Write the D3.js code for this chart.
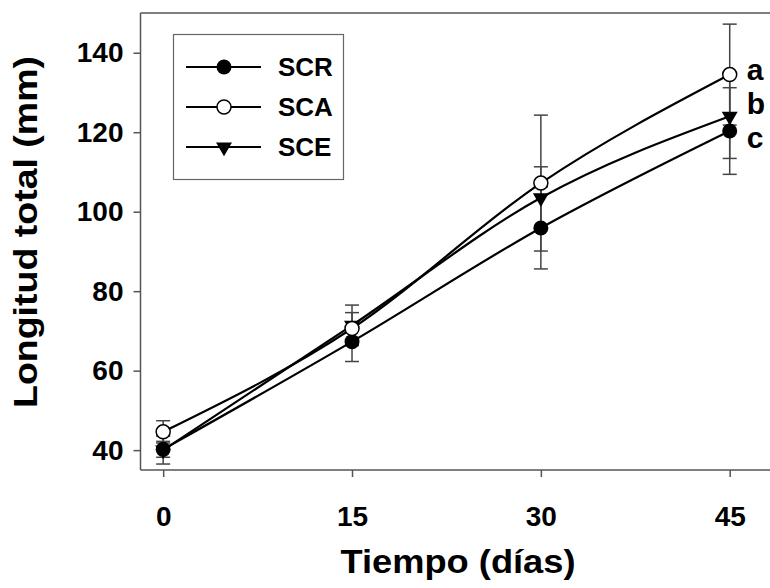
<!DOCTYPE html>
<html><head><meta charset="utf-8">
<script src="https://cdn.jsdelivr.net/npm/d3@7"></script>
<style>body{margin:0;background:#fff}svg{display:block}text{font-family:"Liberation Sans",Arial,sans-serif;font-weight:bold;fill:#000}</style>
</head><body><svg id="c" width="770" height="588"></svg>
<script>
const days = [0, 15, 30, 45];
const seriesNames = ["SCR", "SCA", "SCE"];
const scrMean = [40.2, 67.3, 95.9, 120.3];
const scrSd = [2.0, 5.0, 10.3, 10.9];
const scaMean = [44.6, 70.6, 107.2, 134.5];
const scaSd = [2.8, 4.0, 17.1, 12.7];
const sceMean = [40.0, 71.4, 103.5, 124.0];
const sceSd = [3.5, 5.1, 7.8, 10.6];
const yTicks = [40, 60, 80, 100, 120, 140];
const xTicks = [0, 15, 30, 45];
const letters = ["a", "b", "c"];

const svg = d3.select("#c");
const x = d3.scaleLinear().domain([-1.8, 48.2]).range([140.5, 770]);
const y = d3.scaleLinear().domain([35, 150]).range([470, 13]);

const series = [
  {name: seriesNames[0], mean: scrMean, sd: scrSd, type: "fcircle"},
  {name: seriesNames[1], mean: scaMean, sd: scaSd, type: "ocircle"},
  {name: seriesNames[2], mean: sceMean, sd: sceSd, type: "tri"}
];

// frame
const axisCol = "#555";
svg.append("line").attr("x1", x.range()[0]).attr("x2", 770).attr("y1", y.range()[1]).attr("y2", y.range()[1]).attr("stroke", axisCol).attr("stroke-width", 1.5);

const xAxis = svg.append("g").attr("transform", `translate(0,${y.range()[0]})`)
  .call(d3.axisBottom(x).tickValues(xTicks).tickSize(7).tickPadding(29).tickFormat(d3.format("d")));
const yAxis = svg.append("g").attr("transform", `translate(${x.range()[0]},0)`)
  .call(d3.axisLeft(y).tickValues(yTicks).tickSize(7).tickPadding(10).tickFormat(d3.format("d")));
[xAxis, yAxis].forEach(g => {
  g.select(".domain").attr("stroke", axisCol).attr("stroke-width", 1.5);
  g.selectAll(".tick line").attr("stroke", axisCol).attr("stroke-width", 1.5);
  g.selectAll(".tick text").style("font-size", "28px").style("font-family", '"Liberation Sans",Arial,sans-serif').style("font-weight", "bold").attr("fill", "#000");
});
xAxis.select(".domain").attr("d", `M${x.range()[0]},0H770`);
yAxis.select(".domain").attr("d", `M0,${y.range()[0]}V${y.range()[1]}`);

// titles
svg.append("text").attr("x", 458).attr("y", 573).attr("text-anchor", "middle").style("font-size", "33px")
  .attr("textLength", 235).attr("lengthAdjust", "spacingAndGlyphs").text("Tiempo (días)");
svg.append("text").attr("transform", `translate(37,232) rotate(-90)`).attr("text-anchor", "middle").style("font-size", "33px")
  .attr("textLength", 352).attr("lengthAdjust", "spacingAndGlyphs").text("Longitud total (mm)");

// error bars
const errCol = "#444";
series.forEach(s => {
  const g = svg.append("g");
  days.forEach((d, i) => {
    const xi = x(d), y1 = y(s.mean[i] - s.sd[i]), y2 = y(s.mean[i] + s.sd[i]);
    g.append("line").attr("x1", xi).attr("x2", xi).attr("y1", y1).attr("y2", y2).attr("stroke", errCol).attr("stroke-width", 1.5);
    [y1, y2].forEach(yy => g.append("line").attr("x1", xi - 7).attr("x2", xi + 7).attr("y1", yy).attr("y2", yy).attr("stroke", errCol).attr("stroke-width", 1.5));
  });
});

// lines
const line = d3.line().x((d, i) => x(days[i])).y(d => y(d)).curve(d3.curveMonotoneX);
series.forEach(s => {
  svg.append("path").attr("d", line(s.mean)).attr("fill", "none").attr("stroke", "#000").attr("stroke-width", 2.2);
});

// markers
const triPath = d3.symbol().type(d3.symbolTriangle).size(110);
function marker(g, type, cx, cy) {
  if (type === "fcircle") g.append("circle").attr("cx", cx).attr("cy", cy).attr("r", 7.5).attr("fill", "#000");
  else if (type === "ocircle") g.append("circle").attr("cx", cx).attr("cy", cy).attr("r", 7).attr("fill", "#fff").attr("stroke", "#000").attr("stroke-width", 1.5);
  else g.append("path").attr("d", triPath()).attr("transform", `translate(${cx},${cy}) rotate(180)`).attr("fill", "#000");
}
[series[0], series[2], series[1]].forEach(s => {
  const g = svg.append("g");
  days.forEach((d, i) => marker(g, s.type, x(d), y(s.mean[i])));
});

// significance letters
const last = days.length - 1;
letters.forEach((l, i) => {
  svg.append("text").attr("x", x(days[last]) + 17).attr("y", y(scaMean[last]) + 5 + i * 34)
    .style("font-size", "30px").text(l);
});

// legend
const lg = svg.append("g");
lg.append("rect").attr("x", 173.5).attr("y", 34.5).attr("width", 170).attr("height", 145).attr("fill", "#fff").attr("stroke", "#666").attr("stroke-width", 1.2);
series.forEach((s, i) => {
  const cy = 67 + i * 40;
  lg.append("line").attr("x1", 186).attr("x2", 261).attr("y1", cy).attr("y2", cy).attr("stroke", "#000").attr("stroke-width", 2);
  marker(lg, s.type, 224, cy);
  lg.append("text").attr("x", 278).attr("y", cy + 9).style("font-size", "26px").text(s.name);
});
</script></body></html>
